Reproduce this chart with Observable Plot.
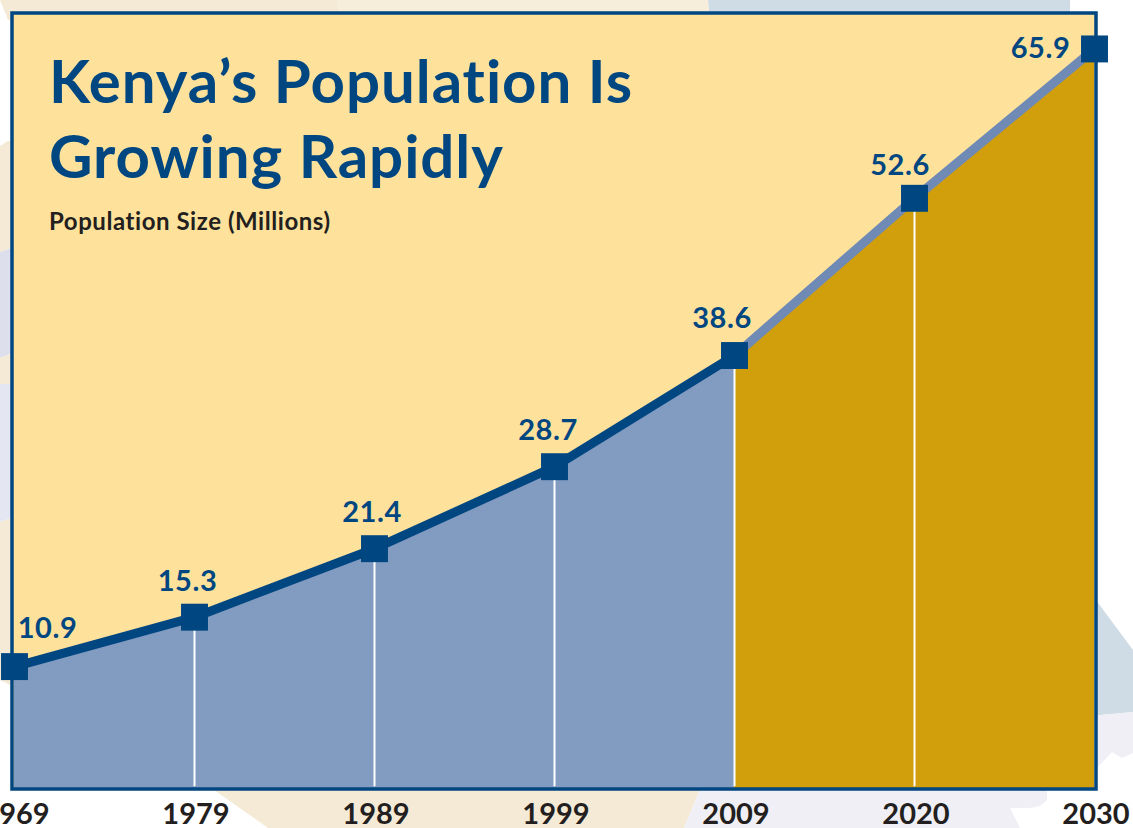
<!DOCTYPE html>
<html><head><meta charset="utf-8">
<script src="https://cdn.jsdelivr.net/npm/d3@7"></script>
<script src="https://cdn.jsdelivr.net/npm/@observablehq/plot@0.6"></script>
<style>
html,body{margin:0;padding:0;background:#fff;overflow:hidden}
#wrap{position:relative;width:1133px;height:828px;overflow:hidden}
#wrap svg{position:absolute;left:0;top:0;background:transparent!important;font-variant-ligatures:none}
.bg{position:absolute;left:0;top:0;width:1133px;height:828px}
.sub{letter-spacing:.55px}
.ttl{letter-spacing:.95px}
.val{letter-spacing:.6px}
</style></head><body>
<div id="wrap">
<div class="bg" style="background:#f5ead6;clip-path:polygon(0 0,337px 0,342px 20px,8px 20px)"></div>
<div class="bg" style="background:#f6eedb;clip-path:polygon(337px 0,708px 0,710px 20px,342px 20px)"></div>
<div class="bg" style="background:#cfdce6;clip-path:polygon(708px 0,1070px 0,1070px 20px,710px 20px)"></div>
<div class="bg" style="background:#f5ead6;clip-path:polygon(0 146px,8px 141px,20px 141px,20px 245px,0 252px)"></div>
<div class="bg" style="background:#dde0ec;clip-path:polygon(0 252px,20px 245px,20px 350px,0 358px)"></div>
<div class="bg" style="background:#f5ead6;clip-path:polygon(0 358px,20px 350px,20px 384px,0 384px)"></div>
<div class="bg" style="background:#e4e7f2;clip-path:polygon(0 384px,20px 384px,20px 515px,0 522px)"></div>
<div class="bg" style="background:#f5ead6;clip-path:polygon(0 522px,20px 515px,20px 690px,0 680px)"></div>
<div class="bg" style="background:#f5ead6;clip-path:polygon(200px 780px,704px 780px,684px 828px,268px 828px)"></div>
<div class="bg" style="background:#efeff5;clip-path:polygon(704px 780px,1047px 780px,1047px 800px,1040px 806px,1030px 808px,1010px 808px,1020px 828px,684px 828px)"></div>
<div class="bg" style="background:#cfdce6;clip-path:polygon(1090px 592px,1133px 650px,1133px 712px,1090px 716px)"></div>
<div class="bg" style="background:#efeff5;clip-path:polygon(1090px 716px,1133px 712px,1133px 753px,1122px 758px,1112px 752px,1097px 768px,1090px 768px)"></div>
</div>
<script>
const years = ["1969","1979","1989","1999","2009","2020","2030"];
const population = [10.9,15.3,21.4,28.7,38.6,52.6,65.9];
const labels = ["10.9","15.3","21.4","28.7","38.6","52.6","65.9"];
const titleText = "Kenya’s Population Is\nGrowing Rapidly";
const subtitleText = "Population Size (Millions)";
const data = years.map((year,i)=>({year,value:population[i],label:labels[i]}));
const past = data.slice(0,5), projected = data.slice(4);
const inner = data.slice(1,6);
const navy="#004681", ink="#231f20", font="Lato, sans-serif";
const lbl = (i,dx,dy)=>Plot.text([data[i]],{x:"year",y:"value",text:"label",dx,dy,fill:navy,fontSize:29,fontWeight:700,fontFamily:font,className:"val"});
const chart = Plot.plot({
  width:1133,height:828,marginLeft:11.5,marginRight:37.5,marginTop:12.5,marginBottom:39.5,
  style:{background:"transparent",fontFamily:font},
  x:{type:"point",domain:years,padding:0,label:null,axis:null},
  y:{domain:[0,69.1],label:null,axis:null},
  marks:[
    Plot.frame({fill:"#fee29b"}),
    Plot.areaY(past,{x:"year",y:"value",fill:"#829bc0"}),
    Plot.areaY(projected,{x:"year",y:"value",fill:"#d19f0c"}),
    Plot.ruleX(inner,{x:"year",y1:0.2,y2:"value",stroke:"#fff",strokeWidth:2}),
    Plot.frame({stroke:navy,strokeWidth:3.5}),
    Plot.line(projected,{x:"year",y:"value",stroke:"#6f8ab5",strokeWidth:9}),
    Plot.line(past,{x:"year",y:"value",stroke:navy,strokeWidth:9}),
    Plot.dot(data,{x:"year",y:"value",symbol:"square",r:15.2,fill:navy}),
    lbl(0,33,-38),lbl(1,-7,-35),lbl(2,-2.5,-36),lbl(3,-6.5,-36),lbl(4,-12.5,-37),lbl(5,-14.5,-33),lbl(6,-54,0),
    Plot.text([titleText],{frameAnchor:"top-left",dx:37,dy:37,fill:navy,fontSize:60,fontWeight:700,fontFamily:font,lineHeight:1.25,textAnchor:"start",className:"ttl"}),
    Plot.text([subtitleText],{frameAnchor:"top-left",dx:37,dy:200,fill:ink,fontSize:24,fontWeight:700,fontFamily:font,textAnchor:"start",className:"sub"}),
    Plot.axisX({anchor:"bottom",tickSize:0,tickPadding:14,dx:1.5,fontSize:29,fontWeight:700,fill:ink,label:null,fontFamily:font}),
  ]
});
document.getElementById("wrap").appendChild(chart);
</script>
</body></html>
